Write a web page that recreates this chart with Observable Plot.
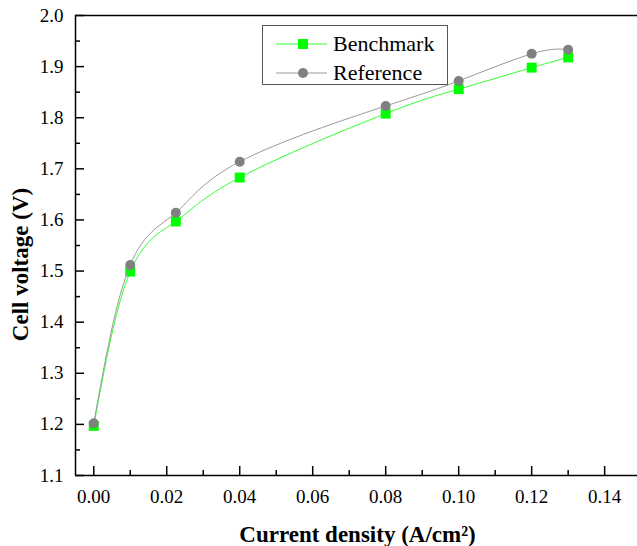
<!DOCTYPE html>
<html>
<head>
<meta charset="utf-8">
<script src="https://cdn.jsdelivr.net/npm/d3@7"></script>
<script src="https://cdn.jsdelivr.net/npm/@observablehq/plot@0.6"></script>
<style>
  html, body { margin: 0; padding: 0; background: #fff; font-family: "Liberation Serif"; }
  #wrap { position: relative; width: 637px; height: 546px; overflow: hidden; }
  #legend { position: absolute; left: 262px; top: 25px; width: 184px; height: 58px;
    border: 1px solid #555; background: #fff; }
</style>
</head>
<body>
<div id="wrap"><div id="legend"></div></div>
<script>
const currentDensity = [0.0, 0.01, 0.0225, 0.04, 0.08, 0.10, 0.12, 0.13];
const benchmark = [1.197, 1.499, 1.597, 1.683, 1.808, 1.856, 1.898, 1.918];
const reference = [1.202, 1.512, 1.614, 1.714, 1.823, 1.872, 1.925, 1.933];
const seriesNames = ["Benchmark", "Reference"];
const xTicks = [0.00, 0.02, 0.04, 0.06, 0.08, 0.10, 0.12, 0.14];
const xMinorTicks = [0.01, 0.03, 0.05, 0.07, 0.09, 0.11, 0.13];
const yTicks = [1.1, 1.2, 1.3, 1.4, 1.5, 1.6, 1.7, 1.8, 1.9, 2.0];
const yMinorTicks = [1.15, 1.25, 1.35, 1.45, 1.55, 1.65, 1.75, 1.85, 1.95];

const colors = {Benchmark: "#00ff00", Reference: "#808080"};
const lineColors = {Benchmark: "#33ff33", Reference: "#9a9a9a"};

const benchData = currentDensity.map((x, i) => ({x, y: benchmark[i]}));
const refData = currentDensity.map((x, i) => ({x, y: reference[i]}));

const font = "Liberation Serif";

const chart = Plot.plot({
  width: 637,
  height: 546,
  marginLeft: 75,
  marginRight: 0,
  marginTop: 15,
  marginBottom: 71,
  style: {fontFamily: font, fontSize: "19px", color: "#000", background: "#fff"},
  x: {domain: [-0.005, 0.149]},
  y: {domain: [1.1, 2.0]},
  marks: [
    Plot.ruleX([-0.005], {stroke: "#000", strokeWidth: 1.5}),
    Plot.ruleY([1.1], {stroke: "#000", strokeWidth: 1.5}),
    Plot.ruleY([2.0], {stroke: "#000", strokeWidth: 1.5}),
    Plot.axisX({ticks: xTicks, tickSize: -9, text: null, strokeWidth: 1.5, label: null}),
    Plot.axisX({ticks: xMinorTicks, tickSize: -5, text: null, strokeWidth: 1.5, label: null}),
    Plot.axisX({ticks: xTicks, tickSize: 0, tickPadding: 14, tickFormat: d3.format(".2f"), label: null, fontSize: 19}),
    Plot.axisY({ticks: yTicks, tickSize: -9, text: null, strokeWidth: 1.5, label: null}),
    Plot.axisY({ticks: yMinorTicks, tickSize: -5, text: null, strokeWidth: 1.5, label: null}),
    Plot.axisY({ticks: yTicks, tickSize: 0, tickPadding: 12, tickFormat: d3.format(".1f"), label: null, fontSize: 19}),
    Plot.text(["Current density (A/cm²)"], {frameAnchor: "bottom", lineAnchor: "middle", textAnchor: "middle", dy: 59, dx: 1, fontSize: 23, fontWeight: "bold", fill: "#000"}),
    Plot.text(["Cell voltage (V)"], {frameAnchor: "left", textAnchor: "middle", lineAnchor: "middle", rotate: -90, dx: -55, dy: 19, fontSize: 23, fontWeight: "bold", fill: "#000"}),
    Plot.line(benchData, {x: "x", y: "y", curve: "natural", stroke: lineColors.Benchmark, strokeWidth: 1}),
    Plot.dot(benchData, {x: "x", y: "y", symbol: "square", r: 5.6, fill: colors.Benchmark, stroke: "none"}),
    Plot.line(refData, {x: "x", y: "y", curve: "natural", stroke: lineColors.Reference, strokeWidth: 1}),
    Plot.dot(refData, {x: "x", y: "y", symbol: "circle", r: 5, fill: colors.Reference, stroke: "none"})
  ]
});
chart.setAttribute("font-family", font);
document.getElementById("wrap").prepend(chart);

const leg = d3.select("#legend").append("svg").attr("width", 184).attr("height", 58).attr("font-family", font);
seriesNames.forEach((name, i) => {
  const cy = 18 + i * 29;
  leg.append("line").attr("x1", 13).attr("x2", 64).attr("y1", cy).attr("y2", cy)
    .attr("stroke", lineColors[name]).attr("stroke-width", 1);
  if (name === "Benchmark") {
    leg.append("rect").attr("x", 40 - 5).attr("y", cy - 5).attr("width", 10).attr("height", 10).attr("fill", colors[name]);
  } else {
    leg.append("circle").attr("cx", 40).attr("cy", cy).attr("r", 5).attr("fill", colors[name]);
  }
  leg.append("text").attr("x", 70).attr("y", cy + 7).attr("font-size", 22).attr("fill", "#000").text(name);
});
d3.selectAll("#wrap text").attr("font-family", font).style("font-family", font);
</script>
</body>
</html>
